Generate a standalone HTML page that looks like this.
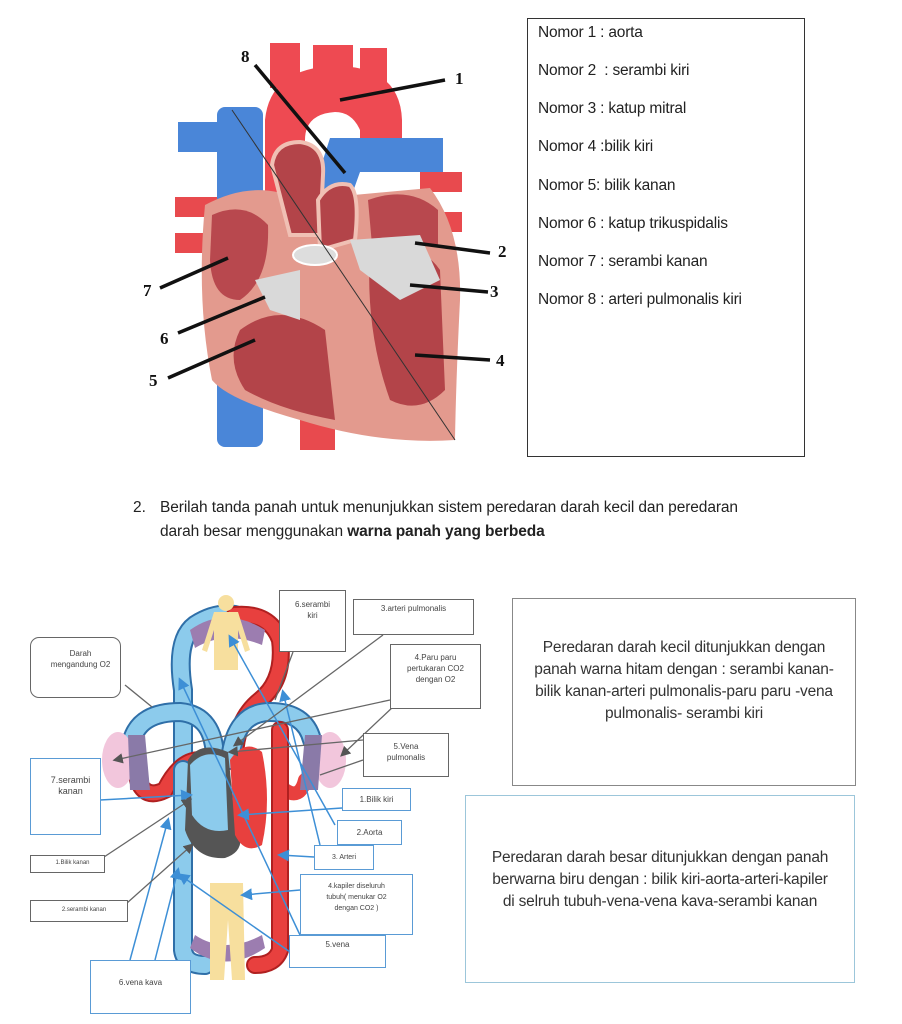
<!DOCTYPE html>
<html><head><meta charset="utf-8"><style>
html,body{margin:0;padding:0;background:#fff;}
body{width:902px;height:1024px;position:relative;overflow:hidden;font-family:"Liberation Sans",sans-serif;color:#222;}
.t{position:absolute;white-space:nowrap;}
.box{position:absolute;box-sizing:border-box;background:#fff;}
.sm{position:absolute;box-sizing:border-box;background:#fff;border:1.5px solid #666;font-size:8px;text-align:center;color:#444;line-height:11px;}
.bl{border-color:#5a9bd5;}
.n{font-size:15.5px;left:538px;letter-spacing:-0.2px}
</style></head><body>
<svg width="902" height="1024" style="position:absolute;left:0;top:0">
<defs>
<marker id="ab" markerWidth="8" markerHeight="8" refX="6" refY="4" orient="auto"><path d="M0,0 L8,4 L0,8 Z" fill="#3d8fd6"/></marker>
<marker id="ag" markerWidth="8" markerHeight="8" refX="6" refY="4" orient="auto"><path d="M0,0 L8,4 L0,8 Z" fill="#555"/></marker>
</defs>
<!-- HEART -->
<rect x="178" y="122" width="45" height="30" fill="#4a86d8"/>
<rect x="175" y="197" width="45" height="20" fill="#e84a4e"/>
<rect x="175" y="233" width="45" height="20" fill="#e84a4e"/>
<rect x="420" y="172" width="42" height="20" fill="#e84a4e"/>
<rect x="420" y="212" width="42" height="20" fill="#e84a4e"/>
<rect x="217" y="107" width="46" height="340" rx="8" fill="#4a86d8"/>
<rect x="270" y="43" width="30" height="45" fill="#ee4a52"/>
<rect x="313" y="45" width="40" height="40" fill="#ee4a52"/>
<rect x="360" y="48" width="27" height="40" fill="#ee4a52"/>
<path d="M265,240 L265,120 Q270,68 335,66 Q400,66 402,120 L402,170 L360,170 L360,130 Q352,112 335,112 Q305,114 305,140 L305,240 Z" fill="#ee4a52"/>
<path d="M300,410 L300,450 L335,450 L335,410 Z" fill="#e84a4e"/>
<path d="M315,185 L330,138 L443,138 L443,172 L360,172 L350,200 Z" fill="#4a86d8"/>
<path d="M205,205 Q255,178 300,200 L430,188 Q462,230 460,300 Q456,380 455,440 Q380,445 300,420 Q228,400 212,380 Q196,300 205,205 Z" fill="#e39a8e"/>
<path d="M212,215 Q245,200 268,225 Q270,280 240,300 Q212,300 210,260 Z" fill="#b8484e"/>
<path d="M240,330 Q280,300 325,330 L335,420 Q280,410 245,390 Q225,360 240,330 Z" fill="#b34449"/>
<path d="M370,250 Q420,240 440,270 L445,390 Q420,415 390,400 Q365,330 370,250 Z" fill="#b34449"/>
<path d="M368,200 Q410,185 438,210 L438,245 L372,245 Z" fill="#b8484e"/>
<path d="M272,165 Q275,142 300,142 Q325,145 323,175 L320,235 L290,235 Z" fill="#b34449" stroke="#f0c0b4" stroke-width="4"/>
<path d="M318,200 Q330,180 350,185 Q360,195 355,240 L320,250 Z" fill="#b34449" stroke="#f0c0b4" stroke-width="4"/>
<path d="M255,280 L300,270 L300,320 L270,310 Z" fill="#d9d9d9"/>
<path d="M350,240 L420,235 L440,280 L400,300 L360,270 Z" fill="#d9d9d9"/>
<ellipse cx="315" cy="255" rx="22" ry="10" fill="#ddd" stroke="#fff" stroke-width="2"/>
<line x1="232" y1="110" x2="455" y2="440" stroke="#333" stroke-width="1"/>
<g stroke="#111" stroke-width="3.5" fill="none">
<line x1="255" y1="65" x2="345" y2="173"/>
<line x1="340" y1="100" x2="445" y2="80"/>
<line x1="415" y1="243" x2="490" y2="253"/>
<line x1="410" y1="285" x2="488" y2="292"/>
<line x1="415" y1="355" x2="490" y2="360"/>
<line x1="160" y1="288" x2="228" y2="258"/>
<line x1="178" y1="333" x2="265" y2="297"/>
<line x1="168" y1="378" x2="255" y2="340"/>
</g>
<g font-family="Liberation Serif,serif" font-weight="bold" font-size="17" fill="#111">
<text x="241" y="62">8</text><text x="455" y="84">1</text><text x="498" y="257">2</text>
<text x="490" y="297">3</text><text x="496" y="366">4</text><text x="143" y="296">7</text>
<text x="160" y="344">6</text><text x="149" y="386">5</text>
</g>
<!-- CIRCULATION -->
<g fill="none" stroke-linecap="round">
<path d="M183,770 L183,690 Q175,640 195,625 Q215,612 235,615" stroke="#2f6fa8" stroke-width="20"/>
<path d="M183,770 L183,690 Q175,640 195,625 Q215,612 235,615" stroke="#8ccbec" stroke-width="16"/>
<path d="M235,615 Q270,612 280,640 Q285,680 260,700 Q235,720 235,760" stroke="#b02020" stroke-width="18"/>
<path d="M235,615 Q270,612 280,640 Q285,680 260,700 Q235,720 235,760" stroke="#e8403e" stroke-width="14"/>
<path d="M215,760 Q215,715 180,712 Q140,712 132,740" stroke="#2f6fa8" stroke-width="20"/>
<path d="M215,760 Q215,715 180,712 Q140,712 132,740" stroke="#8ccbec" stroke-width="16"/>
<path d="M230,760 Q235,712 270,712 Q305,712 312,740" stroke="#2f6fa8" stroke-width="20"/>
<path d="M230,760 Q235,712 270,712 Q305,712 312,740" stroke="#8ccbec" stroke-width="16"/>
<path d="M138,780 Q145,800 165,790 Q180,760 200,760" stroke="#b02020" stroke-width="18"/>
<path d="M138,780 Q145,800 165,790 Q180,760 200,760" stroke="#e8403e" stroke-width="14"/>
<path d="M305,780 Q300,800 285,790" stroke="#e8403e" stroke-width="14"/>
<path d="M183,770 L183,950 Q185,965 205,965" stroke="#2f6fa8" stroke-width="20"/>
<path d="M183,770 L183,950 Q185,965 205,965" stroke="#8ccbec" stroke-width="16"/>
<path d="M280,730 L280,950 Q275,965 255,965" stroke="#b02020" stroke-width="18"/>
<path d="M280,730 L280,950 Q275,965 255,965" stroke="#e8403e" stroke-width="14"/>
</g>
<path d="M190,630 Q225,605 265,630 L262,645 Q225,630 195,648 Z" fill="#9c7db0"/>
<path d="M190,948 Q225,975 265,948 L262,935 Q225,955 195,935 Z" fill="#9c7db0"/>
<ellipse cx="118" cy="760" rx="16" ry="28" fill="#f2c6dc"/>
<ellipse cx="330" cy="760" rx="16" ry="28" fill="#f2c6dc"/>
<path d="M128,735 L145,735 L150,790 L130,790 Z" fill="#8a7aa8"/>
<path d="M305,735 L322,735 L318,790 L300,790 Z" fill="#8a7aa8"/>
<path d="M188,760 Q200,740 228,752 L235,820 Q250,850 225,858 Q195,860 185,830 Z" fill="#555"/>
<path d="M190,765 Q205,748 225,758 L228,830 Q205,835 192,815 Z" fill="#8ccbec"/>
<path d="M230,760 Q245,738 262,752 Q272,800 262,845 Q245,855 235,835 Z" fill="#e8403e"/>
<circle cx="226" cy="603" r="8" fill="#f7df9e"/>
<path d="M214,612 L238,612 L250,650 L245,652 L238,630 L238,670 L214,670 L214,630 L207,652 L202,650 Z" fill="#f7df9e"/>
<path d="M210,883 L243,883 L245,980 L232,980 L228,920 L224,980 L210,980 Z" fill="#f7df9e"/>
<g stroke="#3d8fd6" stroke-width="1.5" fill="none" marker-end="url(#ab)">
<line x1="100" y1="800" x2="190" y2="795"/>
<line x1="130" y1="960" x2="168" y2="820"/>
<line x1="155" y1="960" x2="178" y2="870"/>
<line x1="342" y1="808" x2="240" y2="815"/>
<line x1="314" y1="857" x2="280" y2="855"/>
<line x1="300" y1="890" x2="243" y2="895"/>
<line x1="290" y1="952" x2="180" y2="875"/>
<line x1="300" y1="935" x2="180" y2="680"/>
<line x1="335" y1="825" x2="230" y2="637"/>
<line x1="320" y1="845" x2="283" y2="692"/>
</g>
<g stroke="#666" stroke-width="1.3" fill="none" marker-end="url(#ag)">
<line x1="390" y1="700" x2="115" y2="760"/>
<line x1="395" y1="705" x2="342" y2="755"/>
<line x1="363" y1="740" x2="230" y2="752"/>
<line x1="383" y1="635" x2="235" y2="745"/>
<line x1="104" y1="857" x2="190" y2="800"/>
<line x1="127" y1="903" x2="192" y2="845"/>
</g>
<g stroke="#666" stroke-width="1.3">
<line x1="125" y1="685" x2="152" y2="707"/>
<line x1="293" y1="652" x2="275" y2="700"/>
<line x1="363" y1="760" x2="320" y2="775"/>
</g>
</svg>
<div class="box" style="left:527px;top:18px;width:278px;height:439px;border:1.5px solid #333"></div>
<div class="t n" style="top:24px">Nomor 1 : aorta</div>
<div class="t n" style="top:62px">Nomor 2&nbsp; : serambi kiri</div>
<div class="t n" style="top:100px">Nomor 3 : katup mitral</div>
<div class="t n" style="top:138px">Nomor 4 :bilik kiri</div>
<div class="t n" style="top:177px">Nomor 5: bilik kanan</div>
<div class="t n" style="top:215px">Nomor 6 : katup trikuspidalis</div>
<div class="t n" style="top:253px">Nomor 7 : serambi kanan</div>
<div class="t n" style="top:291px">Nomor 8 : arteri pulmonalis kiri</div>
<div class="t" style="left:133px;top:499px;font-size:15.5px">2.</div>
<div class="t" style="left:160px;top:499px;font-size:15.5px;letter-spacing:-0.1px">Berilah tanda panah untuk menunjukkan sistem peredaran darah kecil dan peredaran</div>
<div class="t" style="left:160px;top:523px;font-size:15.5px;letter-spacing:-0.1px">darah besar menggunakan <b>warna panah yang berbeda</b></div>
<div class="box" style="left:512px;top:598px;width:344px;height:188px;border:1.5px solid #888;font-size:15.5px;text-align:center;line-height:22px;padding-top:38px;color:#333;letter-spacing:-0.2px">Peredaran darah kecil ditunjukkan dengan<br>panah warna hitam dengan : serambi kanan-<br>bilik kanan-arteri pulmonalis-paru paru -vena<br>pulmonalis- serambi kiri</div>
<div class="box" style="left:465px;top:795px;width:390px;height:188px;border:1.5px solid #9cc6da;font-size:15.5px;text-align:center;line-height:22px;padding-top:51px;color:#333;letter-spacing:-0.2px">Peredaran darah besar ditunjukkan dengan panah<br>berwarna biru dengan : bilik kiri-aorta-arteri-kapiler<br>di selruh tubuh-vena-vena kava-serambi kanan</div>
<div class="sm" style="left:30px;top:637px;width:91px;height:61px;border-radius:9px;padding-top:10px;padding-left:10px;overflow:hidden">Darah<br>mengandung O2</div>
<div class="sm" style="left:279px;top:590px;width:67px;height:62px;padding-top:8px">6.serambi<br>kiri</div>
<div class="sm" style="left:353px;top:599px;width:121px;height:36px;padding-top:3px">3.arteri pulmonalis</div>
<div class="sm" style="left:390px;top:644px;width:91px;height:65px;padding-top:7px">4.Paru paru<br>pertukaran CO2<br>dengan O2</div>
<div class="sm" style="left:363px;top:733px;width:86px;height:44px;padding-top:7px">5.Vena<br>pulmonalis</div>
<div class="sm bl" style="left:342px;top:788px;width:69px;height:23px;padding-top:5px">1.Bilik kiri</div>
<div class="sm bl" style="left:337px;top:820px;width:65px;height:25px;padding-top:6px">2.Aorta</div>
<div class="sm bl" style="left:314px;top:845px;width:60px;height:25px;padding-top:6px;font-size:7px">3. Arteri</div>
<div class="sm bl" style="left:300px;top:874px;width:113px;height:61px;padding-top:6px;font-size:7px">4.kapiler diseluruh<br>tubuh( menukar O2<br>dengan CO2 )</div>
<div class="sm bl" style="left:289px;top:935px;width:97px;height:33px;padding-top:3px">5.vena</div>
<div class="sm bl" style="left:90px;top:960px;width:101px;height:54px;padding-top:16px">6.vena kava</div>
<div class="sm bl" style="left:30px;top:758px;width:71px;height:77px;padding-top:16px;padding-left:10px;font-size:9px">7.serambi<br>kanan</div>
<div class="sm" style="left:30px;top:855px;width:75px;height:18px;padding-top:2px;padding-left:10px;font-size:6px">1.Bilik kanan</div>
<div class="sm" style="left:30px;top:900px;width:98px;height:22px;padding-top:4px;padding-left:10px;font-size:6px">2.serambi kanan</div>
</body></html>
